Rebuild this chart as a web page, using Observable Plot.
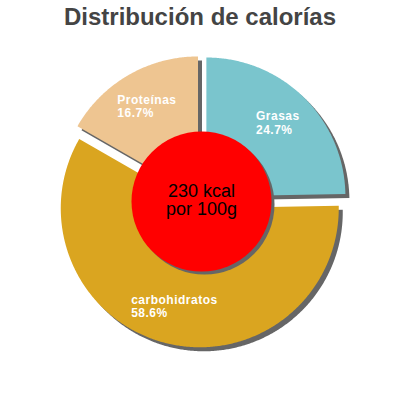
<!DOCTYPE html>
<html><head><meta charset="utf-8">
<script src="https://cdn.jsdelivr.net/npm/d3@7"></script>
<script src="https://cdn.jsdelivr.net/npm/@observablehq/plot@0.6"></script>
<style>
body{margin:0;background:#fff;font-family:"Liberation Sans",Arial,sans-serif;width:400px;height:400px;overflow:hidden;}
#title{height:34px;line-height:34px;text-align:center;font-size:24px;font-weight:bold;color:#444;}
.lbl text{letter-spacing:0.5px;}
</style></head><body>
<div id="title"></div>
<div id="chart"></div>
<script>
const title = "Distribución de calorías";
const categories = ["Grasas", "carbohidratos", "Proteínas"];
const percents = [24.7, 58.6, 16.7];
const colors = ["#7AC5CD", "#DAA520", "#EEC591"];
const centerLines = ["230 kcal", "por 100g"];

document.getElementById("title").textContent = title;

const W = 400, H = 366;
const R = 139, explode = 7, labelR = 102, holeR = 70, shadowOff = 4;

const canvas = document.createElement("canvas");
const ctx = canvas.getContext("2d");
ctx.font = "bold 12px 'Liberation Sans', Arial, sans-serif";
const textW = s => ctx.measureText(s).width + 0.5 * s.length;

const arcs = d3.pie().sort(null).value(d => d)(percents);
const slices = arcs.map((a, i) => {
  const mid = (a.startAngle + a.endAngle) / 2;
  const ox = explode * Math.sin(mid), oy = -explode * Math.cos(mid);
  const pts = [{x: ox, y: oy}];
  const n = Math.max(2, Math.ceil((a.endAngle - a.startAngle) / (Math.PI / 360)));
  for (let k = 0; k <= n; k++) {
    const t = a.startAngle + (a.endAngle - a.startAngle) * k / n;
    pts.push({x: ox + R * Math.sin(t), y: oy - R * Math.cos(t)});
  }
  pts.push({x: ox, y: oy});
  const lines = [categories[i], percents[i].toFixed(1) + "%"];
  const w = Math.max(...lines.map(textW));
  return {name: categories[i], color: colors[i], pts,
          text: lines.join("\n"),
          lx: ox + labelR * Math.sin(mid) - w / 2,
          ly: oy - labelR * Math.cos(mid)};
});

const marks = [];
slices.forEach(s => marks.push(Plot.line(s.pts, {x: "x", y: "y", fill: "#666", stroke: "none", dx: shadowOff, dy: shadowOff})));
slices.forEach(s => marks.push(Plot.line(s.pts, {x: "x", y: "y", fill: s.color, stroke: "none"})));
marks.push(Plot.dot([{x: 0, y: 0}], {x: "x", y: "y", r: holeR, fill: "#666", stroke: "none", dx: 3, dy: 3}));
marks.push(Plot.dot([{x: 0, y: 0}], {x: "x", y: "y", r: holeR, fill: "#FF0000", stroke: "none"}));
marks.push(Plot.text(slices, {x: "lx", y: "ly", text: "text", textAnchor: "start", lineAnchor: "middle",
  fill: "white", fontSize: 12, fontWeight: "bold", lineHeight: 1.15, dy: -1, className: "lbl"}));
marks.push(Plot.text([{x: 0, y: 0, t: centerLines.join("\n")}], {x: "x", y: "y", text: "t", textAnchor: "middle",
  lineAnchor: "middle", fill: "black", fontSize: 18, lineHeight: 1.02, dy: -1.5}));

const plot = Plot.plot({
  width: W, height: H, margin: 0,
  x: {type: "linear", domain: [-201, 199], range: [0, 400], axis: null},
  y: {type: "linear", domain: [-167, 199], range: [0, H], axis: null},
  style: {background: "transparent", fontFamily: "'Liberation Sans', Arial, sans-serif"},
  marks
});
document.getElementById("chart").appendChild(plot);
</script>
</body></html>
